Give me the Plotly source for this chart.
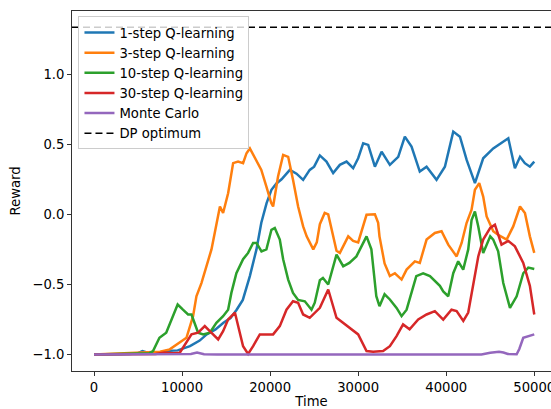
import plotly.graph_objects as go

# ---------------- data ----------------
blue_t = [0, 2000, 4000, 5000, 5500, 6000, 7000, 8200, 9500, 10900, 12000, 12800, 13800, 14700,
          15500, 16200, 16900, 17700, 18450, 19000, 19600, 20150, 20720, 21300, 21860, 22240,
          23000, 23750, 24500, 25000, 25650, 26400, 27160, 27920, 28680, 29430, 30000, 30570,
          31140, 31900, 32660, 33100, 33600, 34550, 35300, 36060, 37000, 37770, 38900, 39850,
          40800, 41560, 42320, 43260, 44200, 45340, 46480, 47050, 47800, 48380, 48930, 49500, 50000]
blue_v = [-1.0, -1.0, -0.995, -0.99, -0.975, -0.985, -0.99, -0.975, -0.97, -0.94, -0.9, -0.856,
          -0.82, -0.773, -0.74, -0.68, -0.61, -0.44, -0.25, -0.06, 0.08, 0.175, 0.22, 0.25, 0.29,
          0.317, 0.29, 0.246, 0.317, 0.34, 0.42, 0.376, 0.294, 0.353, 0.376, 0.329, 0.40, 0.507,
          0.495, 0.34, 0.447, 0.40, 0.353, 0.41, 0.554, 0.483, 0.305, 0.34, 0.246, 0.34, 0.59,
          0.554, 0.388, 0.223, 0.40, 0.47, 0.52, 0.543, 0.329, 0.41, 0.365, 0.34, 0.376]

orange_t = [0, 2000, 4000, 6000, 7500, 8600, 9360, 10500, 11250, 11630, 12200, 12770, 13340,
            13720, 14300, 14660, 15230, 15800, 16360, 16930, 17320, 17700, 18230, 19000, 19570,
            20130, 20340, 20900, 21480, 22050, 22600, 23180, 23750, 24150, 24900, 25300, 25650,
            26200, 26600, 27130, 27540, 27920, 28870, 29430, 30000, 30950, 31900, 32270, 32420,
            33000, 33600, 34170, 34550, 34930, 35500, 36440, 37000, 37770, 38710, 39470, 40230,
            41180, 41750, 42310, 42880, 43260, 43750, 44200, 44590, 45340, 46000, 46860, 47610,
            48380, 48940, 49500, 50000]
orange_v = [-1.0, -0.995, -0.99, -0.985, -0.98, -0.963, -0.93, -0.88, -0.726, -0.584, -0.49,
            -0.37, -0.25, -0.13, 0.056, 0.01, 0.15, 0.365, 0.376, 0.365, 0.436, 0.47, 0.41, 0.317,
            0.2, 0.08, 0.056, 0.27, 0.424, 0.41, 0.246, 0.056, -0.086, -0.157, -0.25, -0.2, -0.07,
            0.01, 0.0, -0.157, -0.26, -0.275, -0.157, -0.19, -0.2, -0.003, 0.0, -0.06, -0.157,
            -0.35, -0.44, -0.42, -0.44, -0.465, -0.394, -0.335, -0.346, -0.18, -0.133, -0.12,
            -0.216, -0.3, -0.204, -0.062, 0.033, 0.175, 0.223, 0.127, -0.015, -0.12, -0.15, -0.18,
            -0.086, 0.056, 0.01, -0.157, -0.275]

green_t = [0, 3000, 5000, 6300, 6700, 7430, 8200, 8950, 9500, 10100, 10680, 11070, 11440, 11820,
           12400, 13150, 13900, 14660, 15230, 15600, 16170, 16930, 17500, 18070, 18450, 19020,
           19580, 20150, 20530, 21100, 21480, 22050, 22600, 23180, 23940, 24700, 25070, 25650,
           26000, 26600, 27540, 28300, 29000, 29800, 30950, 31500, 32060, 32420, 33000, 33600,
           34360, 34930, 35500, 36600, 37380, 38150, 39280, 39660, 40230, 40800, 41360, 41930,
           42500, 42880, 43260, 43640, 44200, 45000, 45340, 45900, 46480, 47240, 48000, 48750,
           49320, 50000]
green_v = [-1.0, -0.995, -0.99, -0.99, -0.975, -0.88, -0.844, -0.726, -0.643, -0.68, -0.714,
           -0.714, -0.773, -0.844, -0.856, -0.844, -0.773, -0.726, -0.68, -0.56, -0.42, -0.32,
           -0.275, -0.204, -0.204, -0.264, -0.25, -0.11, -0.097, -0.18, -0.32, -0.465, -0.56,
           -0.61, -0.62, -0.68, -0.63, -0.47, -0.453, -0.5, -0.287, -0.37, -0.346, -0.3, -0.157,
           -0.25, -0.584, -0.655, -0.57, -0.607, -0.667, -0.726, -0.68, -0.44, -0.42, -0.44,
           -0.51, -0.55, -0.584, -0.42, -0.335, -0.394, -0.25, -0.04, 0.02, -0.086, -0.275,
           -0.157, -0.18, -0.264, -0.49, -0.667, -0.584, -0.42, -0.38, -0.39]

red_t = [0, 4000, 7000, 8000, 9000, 9740, 10500, 11070, 11820, 12580, 13150, 13720, 14100, 14660,
         15230, 16000, 16360, 16930, 17500, 18070, 18830, 19600, 20340, 21100, 21860, 22600,
         23180, 23750, 24500, 25650, 26600, 27540, 29000, 30000, 30950, 31700, 32830, 33600,
         34360, 35100, 35840, 36820, 37770, 38710, 39660, 40600, 41180, 41940, 42500, 43070,
         43640, 44200, 45000, 45530, 46280, 47050, 47800, 48750, 49500, 50000]
red_v = [-1.0, -1.0, -0.995, -0.985, -0.99, -0.987, -0.915, -0.856, -0.844, -0.797, -0.833,
         -0.868, -0.892, -0.833, -0.75, -0.70, -0.797, -0.94, -0.995, -0.94, -0.856, -0.856,
         -0.856, -0.797, -0.68, -0.62, -0.63, -0.714, -0.738, -0.667, -0.536, -0.738, -0.81,
         -0.856, -0.975, -0.98, -0.975, -0.94, -0.868, -0.785, -0.82, -0.75, -0.714, -0.69,
         -0.75, -0.68, -0.69, -0.76, -0.70, -0.51, -0.30, -0.18, -0.097, -0.074, -0.216, -0.19,
         -0.228, -0.346, -0.51, -0.714]

purple_t = [0, 10000, 11000, 11700, 12500, 14000, 20000, 30000, 38000, 39000, 40000, 44000,
            45000, 46000, 46500, 47000, 48000, 48300, 48750, 49320, 50000]
purple_v = [-1.0, -1.0, -0.995, -0.985, -0.997, -1.0, -1.0, -1.0, -1.0, -0.995, -1.0, -1.0,
            -0.987, -0.98, -0.985, -0.995, -0.998, -0.96, -0.88, -0.868, -0.856]

dp_optimum = 1.334

series_names = ["1-step Q-learning", "3-step Q-learning", "10-step Q-learning",
                "30-step Q-learning", "Monte Carlo"]
series_colors = ["#1f77b4", "#ff7f0e", "#2ca02c", "#d62728", "#9467bd"]

x_range = [-2500, 51900]
y_range = [-1.117, 1.45]
x_ticks = [0, 10000, 20000, 30000, 40000, 50000]
y_ticks = [-1.0, -0.5, 0.0, 0.5, 1.0]

# ---------------- figure ----------------
font = dict(family="DejaVu Sans", size=13.2, color="#000000")
fig = go.Figure()
all_t = [blue_t, orange_t, green_t, red_t, purple_t]
all_v = [blue_v, orange_v, green_v, red_v, purple_v]
for name, color, t, v in zip(series_names, series_colors, all_t, all_v):
    fig.add_trace(go.Scatter(x=t, y=v, mode="lines", name=name,
                             line=dict(color=color, width=2.5)))

fig.add_trace(go.Scatter(x=x_range, y=[dp_optimum, dp_optimum], mode="lines",
                         name="DP optimum",
                         line=dict(color="#000000", width=1.6, dash="7px,4px")))

fig.update_layout(
    width=551, height=409,
    margin=dict(l=72, r=0, t=11, b=38, autoexpand=False),
    paper_bgcolor="white", plot_bgcolor="white",
    font=font,
    showlegend=True,
    legend=dict(x=0.0135, y=0.985, xanchor="left", yanchor="top",
                bgcolor="rgba(255,255,255,0.8)", bordercolor="#cccccc", borderwidth=1,
                font=dict(family="DejaVu Sans", size=13.2, color="#000000"),
                itemwidth=30, tracegroupgap=0),
)
fig.update_xaxes(range=x_range, tickvals=x_ticks, tickformat="d", automargin=False,
                 ticklabeloverflow="allow",
                 showgrid=False, zeroline=False,
                 showline=True, linecolor="#333333", linewidth=1, mirror=True,
                 ticks="outside", ticklen=4, tickcolor="#333333",
                 title=dict(text="Time", font=font, standoff=2))
fig.update_yaxes(range=y_range, tickvals=y_ticks, tickformat=".1f", automargin=False,
                 showgrid=False, zeroline=False,
                 showline=True, linecolor="#333333", linewidth=1,
                 ticks="outside", ticklen=4, tickcolor="#333333",
                 title=dict(text="Reward", font=font, standoff=8))

fig.write_html("out.html",
               config={"displayModeBar": False},
               post_script="document.body.style.margin='0';document.body.style.padding='0';")
